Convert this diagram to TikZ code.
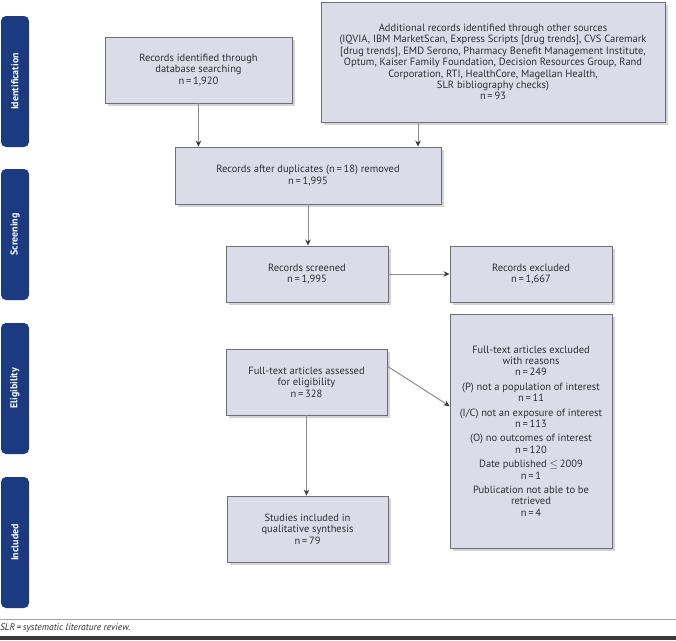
\documentclass[tikz,border=0pt]{standalone}
\usepackage{fontspec}
\setmainfont{PT Sans}
\usetikzlibrary{arrows.meta,shadows,positioning,calc}
\definecolor{navy}{HTML}{1B3A80}
\definecolor{boxfill}{HTML}{DCDCE8}
\definecolor{boxline}{HTML}{6E6E78}
\definecolor{txt}{HTML}{2E2E36}
\definecolor{arr}{HTML}{8C8C8C}
\definecolor{tipc}{HTML}{3A3A40}
\tikzset{
  flowbox/.style={draw=boxline, line width=0.9pt, fill=boxfill, align=center, text=txt,
    font=\fontsize{10.5}{11.4}\selectfont, inner sep=2pt,
    drop shadow={shadow xshift=2.5pt, shadow yshift=-2.5pt, opacity=0.28, fill=black!60}},
  tab/.style={fill=navy, rounded corners=5pt},
  tablabel/.style={rotate=90, text=white, font=\fontsize{10}{12}\selectfont\bfseries},
  conn/.style={draw=arr, line width=1pt, -{Stealth[length=6pt,width=5.5pt,fill=tipc,color=tipc]}}
}
\begin{document}
\begin{tikzpicture}[x=1pt,y=-1pt]
\useasboundingbox (0,0) rectangle (676,640);
% side tabs
\fill[tab] (1,16) rectangle (29,147);
\node[tablabel] (tid) at (15,81.5) {Identification};
\fill[tab] (1,169) rectangle (29,300);
\node[tablabel] (tsc) at (15,234.5) {Screening};
\fill[tab] (1,323) rectangle (29,454);
\node[tablabel] (tel) at (15,388.5) {Eligibility};
\fill[tab] (1,477) rectangle (29,608);
\node[tablabel] (tin) at (15,542.5) {Included};
% boxes
\node[flowbox, minimum width=187pt, minimum height=66pt] (db) at (198.5,70)
  {Records identified through\\database searching\\n\,=\,1,920};
\node[flowbox, minimum width=344pt, minimum height=120pt] (add) at (493,62)
  {Additional records identified through other sources\\
   (IQVIA, IBM MarketScan, Express Scripts {[}drug trends{]}, CVS Caremark\\
   {[}drug trends{]}, EMD Serono, Pharmacy Benefit Management Institute,\\
   Optum, Kaiser Family Foundation, Decision Resources Group, Rand\\
   Corporation, RTI, HealthCore, Magellan Health,\\
   SLR bibliography checks)\\
   n\,=\,93};
\node[flowbox, minimum width=266pt, minimum height=57pt] (dup) at (308,175.5)
  {Records after duplicates (n\,=\,18) removed\\n\,=\,1,995};
\node[flowbox, minimum width=162pt, minimum height=56pt] (scr) at (307,274)
  {Records screened\\n\,=\,1,995};
\node[flowbox, minimum width=162pt, minimum height=56pt] (exc) at (531,274)
  {Records excluded\\n\,=\,1,667};
\node[flowbox, minimum width=161pt, minimum height=66pt] (fta) at (306.5,382)
  {Full-text articles assessed\\for eligibility\\n\,=\,328};
\node[flowbox, minimum width=162pt, minimum height=234pt] (fte) at (531,431)
  {Full-text articles excluded\\with reasons\\n\,=\,249\\[3pt]
   (P) not a population of interest\\n\,=\,11\\[3pt]
   (I/C) not an exposure of interest\\n\,=\,113\\[3pt]
   (O) no outcomes of interest\\n\,=\,120\\[3pt]
   Date published \(\leq\)\,2009\\n\,=\,1\\[3pt]
   Publication not able to be\\retrieved\\n\,=\,4};
\node[flowbox, minimum width=161pt, minimum height=66pt] (inc) at (307.5,529)
  {Studies included in\\qualitative synthesis\\n\,=\,79};
% connectors
\draw[conn] (add.south -| 418,0) -- (dup.north -| 418,0);
\draw[conn] (db.south) -- (db.south |- dup.north);
\draw[conn] (dup.south) -- (dup.south |- scr.north);
\draw[conn] (scr.east) -- (exc.west);
\draw[conn] (fta.11) -- (fte.163.5);
\draw[conn] (fta.south) -- (fta.south |- inc.north);
% footer
\draw[draw=gray!70, line width=0.7pt] (0,619) -- (676,619);
\node[anchor=west, inner sep=0pt, font=\fontsize{9.5}{11}\selectfont\itshape, text=txt] (note) at (0,628.5) {SLR\,=\,systematic literature review.};
\fill[black!78] (0,636) rectangle (676,640);
\end{tikzpicture}
\end{document}
